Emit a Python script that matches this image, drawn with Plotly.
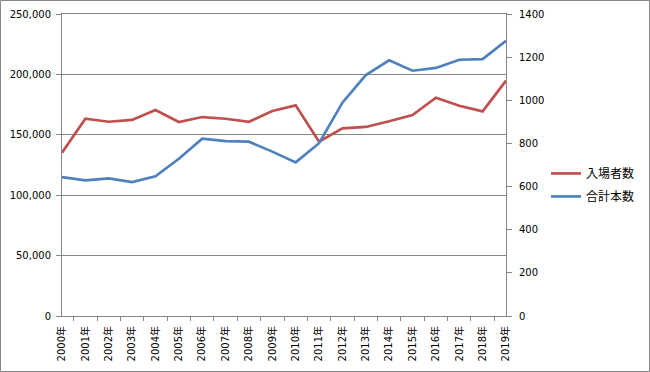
import plotly.graph_objects as go

years = [f"{y}年" for y in range(2000, 2020)]
visitors = [135200, 163300, 160800, 162300, 170500, 160600, 164700, 163300, 160800, 169700,
            174400, 144300, 155400, 156500, 161200, 166400, 180700, 174100, 169400, 194800]
titles = [644, 629, 638, 621, 648, 729, 822, 811, 808, 762,
          712, 801, 989, 1117, 1185, 1137, 1150, 1188, 1191, 1276]
name_visitors = "入場者数"
name_titles = "合計本数"

W, H = 650, 372
ML, MR, MT, MB = 62, 144, 14, 56
pw, ph = W - ML - MR, H - MT - MB

fig = go.Figure()
fig.add_trace(go.Scatter(x=years, y=visitors, name=name_visitors, mode="lines",
                         line=dict(color="#C0504D", width=2.7), legendgroup="a"))
fig.add_trace(go.Scatter(x=years, y=titles, name=name_titles, mode="lines", yaxis="y2",
                         line=dict(color="#4F81BD", width=2.7), legendgroup="b"))

axis_font = dict(family="DejaVu Sans, Verdana, sans-serif", size=10, color="#000")
x_font = dict(family="DejaVu Sans, Noto Sans CJK JP, sans-serif", size=10, color="#000")
fig.update_layout(
    width=W, height=H,
    margin=dict(l=ML, r=MR, t=MT, b=MB, autoexpand=False),
    paper_bgcolor="white", plot_bgcolor="white",
    font=dict(family="DejaVu Sans, Noto Sans CJK JP, sans-serif", color="#000"),
    xaxis=dict(type="category", tickson="boundaries", ticks="outside", ticklen=4,
               tickcolor="#868686", showline=True, linecolor="#868686", linewidth=1,
               mirror=True, showgrid=False, tickangle=-90, tickfont=x_font,
               ticklabelstandoff=5, automargin=False),
    yaxis=dict(range=[0, 250000], dtick=50000, tickformat=",", ticks="outside", ticklen=5,
               tickcolor="#868686", showline=True, linecolor="#868686", linewidth=1,
               showgrid=True, gridcolor="#868686", gridwidth=1, tickfont=axis_font,
               ticklabelstandoff=3, zeroline=False, automargin=False),
    yaxis2=dict(range=[0, 1400], dtick=200, overlaying="y", side="right", ticks="outside",
                ticklen=5, tickcolor="#868686", showline=True, linecolor="#868686",
                linewidth=1, showgrid=False, tickfont=axis_font, zeroline=False,
                ticklabelstandoff=5, automargin=False),
    legend=dict(x=1 + 40 / pw, y=0.434, xanchor="left", yanchor="middle",
                font=dict(family="Noto Sans CJK JP, sans-serif", size=12, color="#000"),
                tracegroupgap=4, itemwidth=30, bgcolor="rgba(0,0,0,0)"),
    showlegend=True,
    shapes=[dict(type="rect", xref="paper", yref="paper",
                 x0=-(ML - 0.5) / pw, x1=1 + (MR - 0.5) / pw,
                 y0=-(MB - 0.5) / ph, y1=1 + (MT - 0.5) / ph,
                 line=dict(color="#868686", width=1), layer="below")],
)

fig.write_html("out.html", config={"displayModeBar": False},
               post_script="document.body.style.margin='0';document.body.style.overflow='hidden';")
